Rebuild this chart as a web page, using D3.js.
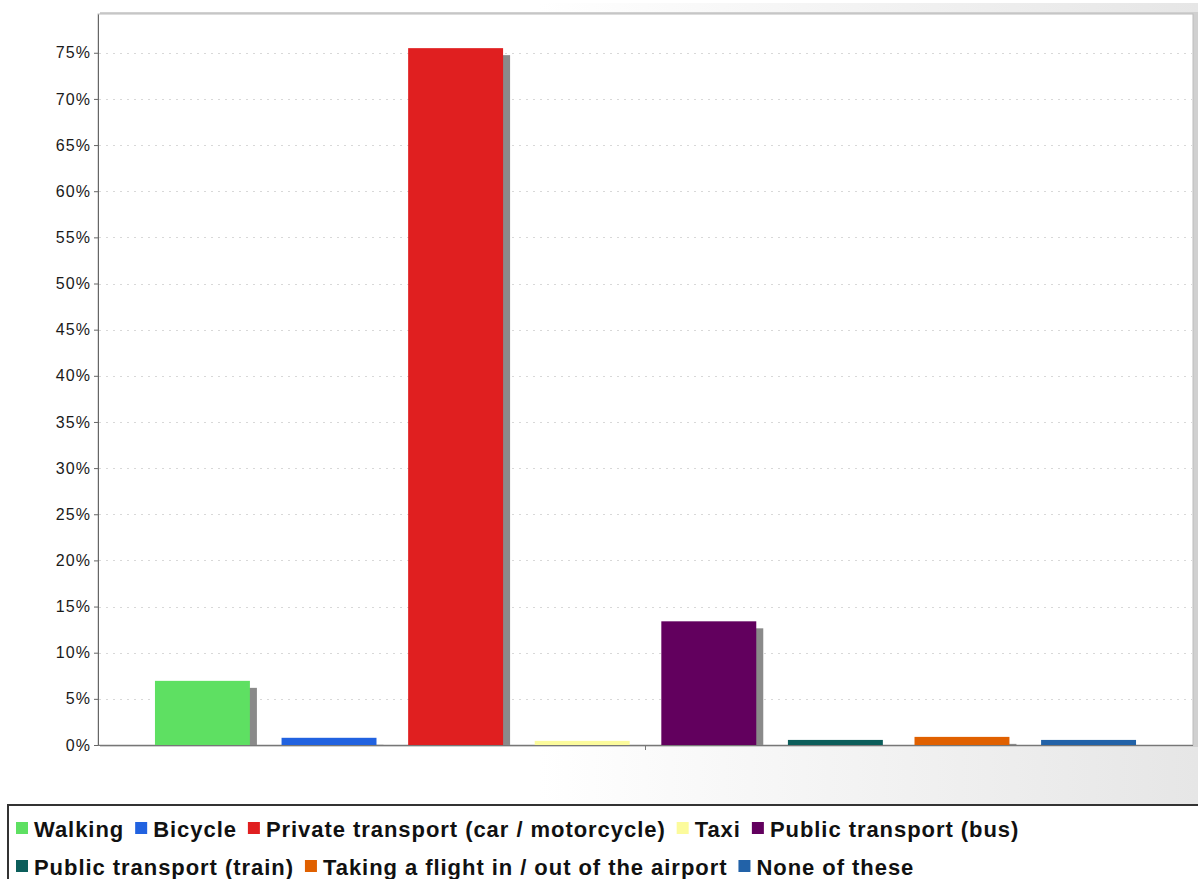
<!DOCTYPE html>
<html>
<head>
<meta charset="utf-8">
<script src="https://cdn.jsdelivr.net/npm/d3@7"></script>
<style>
  html, body { margin: 0; padding: 0; background: #ffffff; }
  svg { display: block; }
</style>
</head>
<body>
<script>
const categories = ["Walking", "Bicycle", "Private transport (car / motorcycle)", "Taxi",
  "Public transport (bus)", "Public transport (train)", "Taking a flight in / out of the airport", "None of these"];
const values = [0.0695, 0.0078, 0.755, 0.0045, 0.134, 0.0055, 0.0088, 0.0055];
const colors = ["#5ee062", "#2162e0", "#e01f20", "#fcfb9c", "#62005e", "#0c5e5b", "#e06000", "#2262a8"];
const yTicks = [0, 0.05, 0.10, 0.15, 0.20, 0.25, 0.30, 0.35, 0.40, 0.45, 0.50, 0.55, 0.60, 0.65, 0.70, 0.75];

const W = 1198, H = 879;
const plot = { left: 98, right: 1193, top: 14, bottom: 745 };

const svg = d3.select("body").append("svg").attr("width", W).attr("height", H);
const defs = svg.append("defs");

const grad = defs.append("linearGradient").attr("id", "bg").attr("x1", "0").attr("x2", "1").attr("y1", "0").attr("y2", "0");
grad.append("stop").attr("offset", "0.45").attr("stop-color", "#ffffff");
grad.append("stop").attr("offset", "1").attr("stop-color", "#e6e6e6");

defs.append("clipPath").attr("id", "plotclip").append("rect")
  .attr("x", plot.left).attr("y", plot.top)
  .attr("width", plot.right - plot.left).attr("height", plot.bottom - plot.top);

// background panel
svg.append("rect").attr("x", 0).attr("y", 3).attr("width", W).attr("height", 802).attr("fill", "url(#bg)");

// plot area frame
svg.append("rect").attr("x", plot.left + 2).attr("y", plot.top - 2)
  .attr("width", plot.right - plot.left + 3).attr("height", plot.bottom - plot.top + 4)
  .attr("fill", "#d0d0d0");
svg.append("rect").attr("x", plot.left).attr("y", plot.top)
  .attr("width", plot.right - plot.left).attr("height", plot.bottom - plot.top)
  .attr("fill", "#ffffff").attr("stroke", "#bcbcbc").attr("stroke-width", 1);

const x = d3.scaleBand().domain(categories).range([plot.left, plot.right])
  .paddingInner(0.25).paddingOuter(0.45);
const y = d3.scaleLinear().domain([0, 0.792]).range([plot.bottom, plot.top]);

// gridlines
svg.append("g").selectAll("line").data(yTicks.filter(d => d > 0)).join("line")
  .attr("x1", plot.left + 1).attr("x2", plot.right - 1)
  .attr("y1", d => Math.round(y(d)) + 0.5).attr("y2", d => Math.round(y(d)) + 0.5)
  .attr("stroke", "#d8d8d8").attr("stroke-width", 1).attr("stroke-dasharray", "2,5");

// bars with shadows
const barG = svg.append("g").attr("clip-path", "url(#plotclip)");
const data = categories.map((c, i) => ({ c, v: values[i], col: colors[i] }));
barG.selectAll("rect.shadow").data(data).join("rect").attr("class", "shadow")
  .attr("x", d => x(d.c) + 7).attr("y", d => y(d.v) + 7)
  .attr("width", x.bandwidth()).attr("height", d => Math.max(0, plot.bottom - y(d.v)))
  .attr("fill", "#8a8a8a");
barG.selectAll("rect.bar").data(data).join("rect").attr("class", "bar")
  .attr("x", d => x(d.c)).attr("y", d => y(d.v))
  .attr("width", x.bandwidth()).attr("height", d => plot.bottom - y(d.v))
  .attr("fill", d => d.col);

// axes
const yAxis = d3.axisLeft(y).tickValues(yTicks).tickFormat(d3.format(".0%"))
  .tickSizeInner(4).tickSizeOuter(0).tickPadding(3);
const gy = svg.append("g").attr("transform", `translate(${plot.left},0)`).call(yAxis);
gy.select(".domain").attr("stroke", "#666");
gy.selectAll(".tick line").attr("stroke", "#666");
gy.selectAll(".tick text").attr("font-family", "'Liberation Sans', Arial, sans-serif")
  .attr("font-size", 16).attr("letter-spacing", "1.1").attr("fill", "#1a1a1a");

const xAxisLine = svg.append("g");
xAxisLine.append("line").attr("x1", plot.left).attr("x2", plot.right)
  .attr("y1", plot.bottom + 0.5).attr("y2", plot.bottom + 0.5).attr("stroke", "#777");
const midX = (plot.left + plot.right) / 2;
xAxisLine.append("line").attr("x1", midX).attr("x2", midX)
  .attr("y1", plot.bottom).attr("y2", plot.bottom + 5).attr("stroke", "#777");

// legend
svg.append("rect").attr("x", 8).attr("y", 805).attr("width", 1210).attr("height", 100)
  .attr("fill", "#ffffff").attr("stroke", "#333").attr("stroke-width", 2);

const legend = svg.append("g");
const rowY = [828, 866];
let lx = 16, row = 0;
const maxX = 1190;
data.forEach(d => {
  const t = legend.append("text")
    .attr("font-family", "'Liberation Sans', Arial, sans-serif")
    .attr("font-weight", "bold").attr("font-size", 22).attr("letter-spacing", "0.95")
    .attr("fill", "#111").attr("dominant-baseline", "central")
    .text(d.c);
  const tw = t.node().getComputedTextLength();
  if (lx + 17 + tw > maxX) { row += 1; lx = 16; }
  legend.append("rect").attr("x", lx).attr("y", rowY[row] - 6).attr("width", 12).attr("height", 12)
    .attr("fill", d.col);
  t.attr("x", lx + 18).attr("y", rowY[row] + 1);
  lx += 18 + tw + 11;
});
</script>
</body>
</html>
